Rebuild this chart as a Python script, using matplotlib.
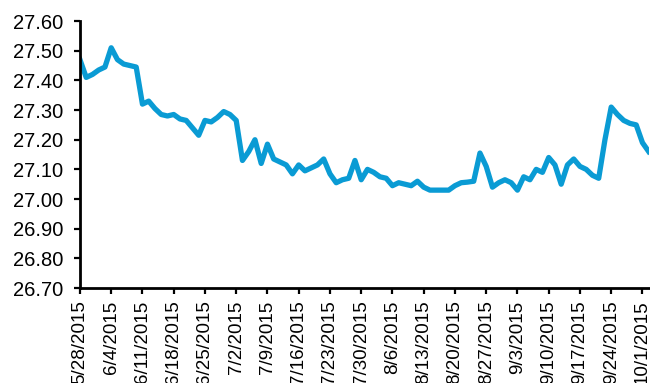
import pandas as pd
import matplotlib
matplotlib.use('Agg')
import matplotlib.pyplot as plt

plt.rcParams['font.family'] = ['Liberation Sans', 'DejaVu Sans']

# daily closing rate, business days
dates = pd.bdate_range('2015-05-28', '2015-10-02')
rate = [27.47, 27.41, 27.42, 27.435, 27.445, 27.51, 27.47, 27.455, 27.45, 27.445,
        27.32, 27.33, 27.305, 27.285, 27.28, 27.285, 27.27, 27.265, 27.24, 27.215,
        27.265, 27.26, 27.275, 27.295, 27.285, 27.265, 27.13, 27.16, 27.20, 27.12,
        27.185, 27.135, 27.125, 27.115, 27.085, 27.115, 27.095, 27.105, 27.115, 27.135,
        27.085, 27.055, 27.065, 27.07, 27.13, 27.065, 27.10, 27.09, 27.075, 27.07,
        27.045, 27.055, 27.05, 27.045, 27.06, 27.04, 27.03, 27.03, 27.03, 27.03,
        27.045, 27.055, 27.057, 27.06, 27.155, 27.11, 27.04, 27.055, 27.065, 27.055,
        27.03, 27.075, 27.065, 27.10, 27.09, 27.14, 27.115, 27.05, 27.115, 27.135,
        27.11, 27.10, 27.08, 27.07, 27.20, 27.31, 27.285, 27.265, 27.255, 27.25,
        27.19, 27.16]

tick_step = 5
tick_labels = [f'{d.month}/{d.day}/{d.year}' for d in dates[::tick_step]]
y_ticks = [26.7 + 0.1 * k for k in range(10)]

fig = plt.figure(figsize=(6.5, 3.83), dpi=100)
ax = fig.add_axes([0.123, 0.248, 0.875, 0.697])

x = list(range(len(rate)))
ax.plot(x, rate, color='#0a9bd4', lw=3.8, solid_joinstyle='round')

ax.set_xlim(0, 91)
ax.set_ylim(26.7, 27.6)
ax.set_yticks(y_ticks)
ax.set_yticklabels([f'{v:.2f}' for v in y_ticks], fontsize=14.5)
ax.set_xticks(x[::tick_step])
ax.set_xticklabels(tick_labels, rotation=90, fontsize=13.5)

for s in ['top', 'right']:
    ax.spines[s].set_visible(False)
for s in ['left', 'bottom']:
    ax.spines[s].set_linewidth(2)
ax.tick_params(axis='both', direction='out', length=4, width=1.6)
ax.tick_params(axis='y', pad=8)
ax.tick_params(axis='x', pad=5)

fig.savefig('out.png', dpi=100)
